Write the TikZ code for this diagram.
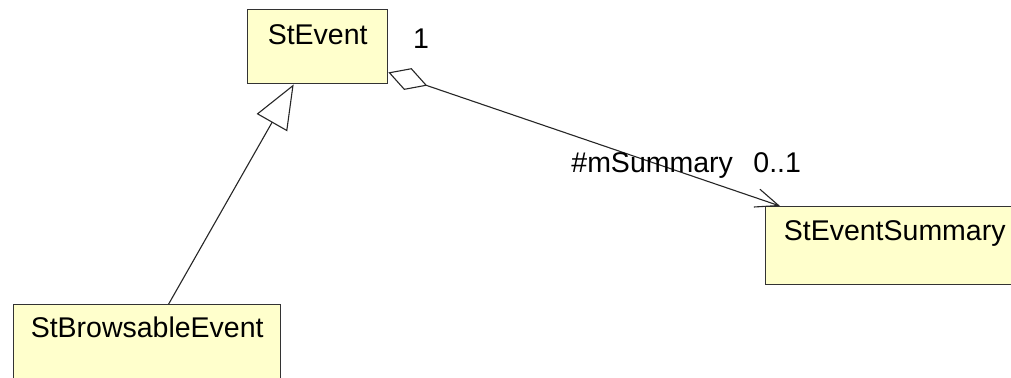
\documentclass[tikz,border=0pt]{standalone}
\usepackage{fontspec}
\setmainfont{Liberation Sans}
\usetikzlibrary{calc}
\usetikzlibrary{arrows.meta}
\definecolor{classfill}{RGB}{255,255,204}
\tikzset{
	classbox/.style={draw=black!80, fill=classfill, line width=0.7pt, inner sep=0pt, anchor=north west, font=\fontsize{14.25}{17}\selectfont},
	multlabel/.style={inner sep=0pt, font=\fontsize{14.25}{17}\selectfont},
	umlline/.style={line width=0.55pt, draw=black!85}
}

\begin{document}
\begin{tikzpicture}[x=0.5pt, y=-0.5pt]
			\useasboundingbox (0, 0) rectangle (1011, 377);
			\clip (0, 0) rectangle (1011, 377);
			\fill[white] (0, 0) rectangle (1011, 377);
			\node[classbox, minimum width=70pt, text height=17.5pt, text depth=19.5pt] (stevent) at (247, 9) {StEvent};
			\node[classbox, minimum width=129pt, text height=17pt, text depth=22pt] (summary) at (765, 206) {StEventSummary};
			\node[classbox, minimum width=133.5pt, text height=16.5pt, text depth=30pt] (browsable) at (13, 304) {StBrowsableEvent};
			\draw[umlline, -{Triangle[open, length=22pt, width=17.5pt]}] ($(browsable.north west)!0.58!(browsable.north east)$) -- ($(stevent.south west)!0.33!(stevent.south east)$);
			\draw[umlline, {Diamond[open, length=20.5pt, width=11.5pt]}-{Straight Barb[length=11.5pt, width=9.4pt]}] ([yshift=6pt]stevent.south east) -- ([xshift=7.5pt]summary.north west);
			\node[multlabel, anchor=base] (one) at (421, 48) {1};
			\node[multlabel, anchor=base west] (role) at (571, 172) {\#mSummary};
			\node[multlabel, anchor=base west] (mult) at (753, 172) {0..1};
		\end{tikzpicture}
\end{document}
